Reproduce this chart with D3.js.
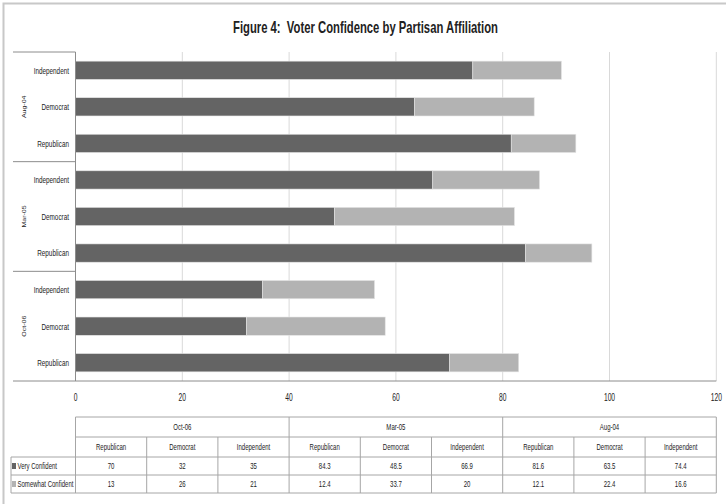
<!DOCTYPE html>
<html><head><meta charset="utf-8">
<script src="https://cdn.jsdelivr.net/npm/d3@7"></script>
<style>
body{margin:0;background:#fff;}
text{font-family:"Liberation Sans",Arial,sans-serif;fill:#222;white-space:pre;}
</style></head><body>
<svg id="c" width="726" height="504"></svg>
<script>
const periods = ["Oct-06","Mar-05","Aug-04"];
const parties = ["Republican","Democrat","Independent"];
const seriesNames = ["Very Confident","Somewhat Confident"];
const veryConfident = [70,32,35, 84.3,48.5,66.9, 81.6,63.5,74.4];
const somewhatConfident = [13,26,21, 12.4,33.7,20, 12.1,22.4,16.6];
const xTicks = [0,20,40,60,80,100,120];
const colors = ["#646464","#b3b3b3"];

const rows = [];
periods.forEach((p,i)=>parties.forEach((q,j)=>{
  const k=i*3+j;
  rows.push({period:p,party:q,key:p+"|"+q,v:veryConfident[k],s:somewhatConfident[k]});
}));

const svg = d3.select("#c");
const L=75.5, R=716.3, T=52, B=381;
const SX=0.67;
const x = d3.scaleLinear().domain([0,120]).range([L,R]);
const yOrder = rows.slice().reverse().map(d=>d.key);
const y = d3.scaleBand().domain(yOrder).range([T,B]).paddingInner(0.5).paddingOuter(0.25);

function ntext(g, tx, ty, str, size, anchor, sx){
  return g.append("text").attr("transform",`translate(${tx},${ty}) scale(${sx||SX},1)`)
    .attr("text-anchor",anchor||"middle").attr("dy","0.35em").style("font-size",size+"px").text(str);
}

// figure border
svg.append("path").attr("d","M3.5,504 V3.5 H726").attr("fill","none").attr("stroke","#c8c8c8").attr("stroke-width",2);

// title
svg.append("text").attr("x",365.5).attr("y",33).attr("text-anchor","middle").attr("xml:space","preserve")
  .style("font-size","17px").style("font-weight","bold").attr("textLength",265).attr("lengthAdjust","spacingAndGlyphs")
  .text("Figure 4:  Voter Confidence by Partisan Affiliation");

// gridlines
svg.append("g").selectAll("line").data(xTicks.slice(1)).join("line")
  .attr("x1",d=>x(d)).attr("x2",d=>x(d)).attr("y1",T).attr("y2",B)
  .attr("stroke","#d9d9d9").attr("stroke-width",1);

// bars
const stack = rows.map(d=>[{x0:0,x1:d.v,c:colors[0],k:d.key},{x0:d.v,x1:d.v+d.s,c:colors[1],k:d.key}]).flat();
svg.append("g").selectAll("rect").data(stack).join("rect")
  .attr("x",d=>x(d.x0)).attr("width",d=>x(d.x1)-x(d.x0))
  .attr("y",d=>y(d.k)).attr("height",y.bandwidth())
  .attr("fill",d=>d.c).attr("stroke","#e4e4e4").attr("stroke-width",0.6);

// axes lines
svg.append("line").attr("x1",L).attr("x2",L).attr("y1",T).attr("y2",B).attr("stroke","#8c8c8c");
svg.append("line").attr("x1",13).attr("x2",R).attr("y1",B).attr("y2",B).attr("stroke","#8c8c8c");
// group separators + labels
const groupTopDown = periods.slice().reverse();
const groupH = (B-T)/3;
groupTopDown.forEach((p,i)=>{
  const yy = T+i*groupH;
  svg.append("line").attr("x1",13).attr("x2",L).attr("y1",yy).attr("y2",yy).attr("stroke","#8c8c8c");
  svg.append("text").attr("transform",`translate(24,${yy+groupH/2}) rotate(-90) scale(1,${SX})`)
    .attr("text-anchor","middle").attr("dy","0.35em").style("font-size","7px").text(p);
});
// category labels
const cg = svg.append("g");
rows.forEach(d=>ntext(cg,69,y(d.key)+y.bandwidth()/2,d.party,9.5,"end"));

// x ticks
const xg = svg.append("g");
xTicks.forEach(t=>ntext(xg,x(t),397,t,10,"middle"));

// data table
const colW = (R-L)/9;
const r0=417, r1=437, r2=457, r3=475, r4=493;
const tg = svg.append("g");
const lc = "#a6a6a6";
tg.append("line").attr("x1",L).attr("x2",R).attr("y1",r0).attr("y2",r0).attr("stroke",lc);
tg.append("line").attr("x1",L).attr("x2",R).attr("y1",r1).attr("y2",r1).attr("stroke",lc);
[r2,r3,r4].forEach(yy=>tg.append("line").attr("x1",11).attr("x2",R).attr("y1",yy).attr("y2",yy).attr("stroke",lc));
tg.append("line").attr("x1",11).attr("x2",11).attr("y1",r2).attr("y2",r4).attr("stroke",lc);
for(let i=0;i<=9;i++){
  const xx=L+i*colW;
  const top = (i%3===0)? r0 : r1;
  tg.append("line").attr("x1",xx).attr("x2",xx).attr("y1",top).attr("y2",r4).attr("stroke",lc);
}
periods.forEach((p,i)=>ntext(tg,L+(i*3+1.5)*colW,(r0+r1)/2,p,9,"middle"));
rows.forEach((d,k)=>{
  const cx=L+(k+0.5)*colW;
  ntext(tg,cx,(r1+r2)/2,d.party,9,"middle");
  ntext(tg,cx,(r2+r3)/2,veryConfident[k],9,"middle");
  ntext(tg,cx,(r3+r4)/2,somewhatConfident[k],9,"middle");
});
seriesNames.forEach((s,i)=>{
  const yc = i===0 ? (r2+r3)/2 : (r3+r4)/2;
  tg.append("rect").attr("x",12).attr("y",yc-3).attr("width",4).attr("height",6).attr("fill",colors[i]);
  ntext(tg,17.5,yc,s,9,"start");
});
</script></body></html>
